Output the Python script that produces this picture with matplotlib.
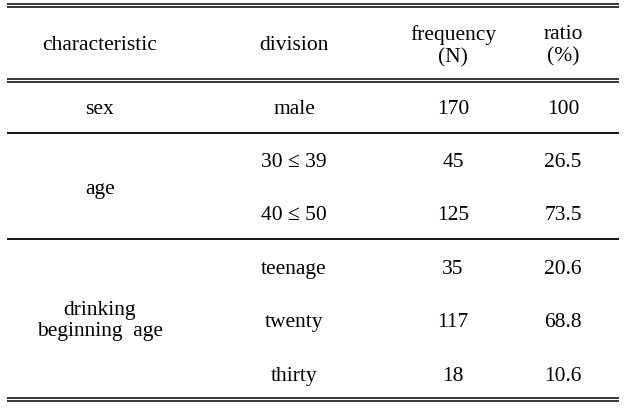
import matplotlib
matplotlib.use('Agg')
import matplotlib.pyplot as plt

plt.rcParams['font.family'] = ['Liberation Serif', 'DejaVu Serif']

headers = ['characteristic', 'division', 'frequency\n(N)', 'ratio\n(%)']
groups = ['sex', 'age', 'drinking\nbeginning  age']
group_rows = [[0], [1, 2], [3, 4, 5]]
divisions = ['male', '30 \u2264 39', '40 \u2264 50', 'teenage', 'twenty', 'thirty']
freq = [170, 45, 125, 35, 117, 18]
ratio = ['100', '26.5', '73.5', '20.6', '68.8', '10.6']

W, H = 626, 410
fig = plt.figure(figsize=(W / 100, H / 100), dpi=100)
ax = fig.add_axes([0, 0, 1, 1])
ax.set_xlim(0, W)
ax.set_ylim(H, 0)
ax.axis('off')

x0, x1 = 7, 619
col_x = [100, 294, 453, 563]
row_y = [109, 163, 216, 270, 323, 377]
fs = 15.5

# rules
for y in [4.5, 7.5, 79.5, 82.5, 398.5, 401.5]:
    ax.plot([x0, x1], [y, y], color='black', lw=1.1, solid_capstyle='butt')
for y in [134, 240]:
    ax.plot([x0, x1], [y, y], color='black', lw=1.3, solid_capstyle='butt')

# header
for x, t in zip(col_x, headers):
    ax.text(x, 46, t, ha='center', va='center', fontsize=fs, linespacing=1.2)

# group labels
for g, rows in zip(groups, group_rows):
    yc = sum(row_y[r] for r in rows) / len(rows)
    if len(rows) == 3:
        yc = 321
    ax.text(col_x[0], yc, g, ha='center', va='center', fontsize=fs, linespacing=1.15)

# body
for y, d, f, r in zip(row_y, divisions, freq, ratio):
    ax.text(col_x[1], y, d, ha='center', va='center', fontsize=fs)
    ax.text(col_x[2], y, str(f), ha='center', va='center', fontsize=fs)
    ax.text(col_x[3], y, r, ha='center', va='center', fontsize=fs)

fig.savefig('out.png', dpi=100)
